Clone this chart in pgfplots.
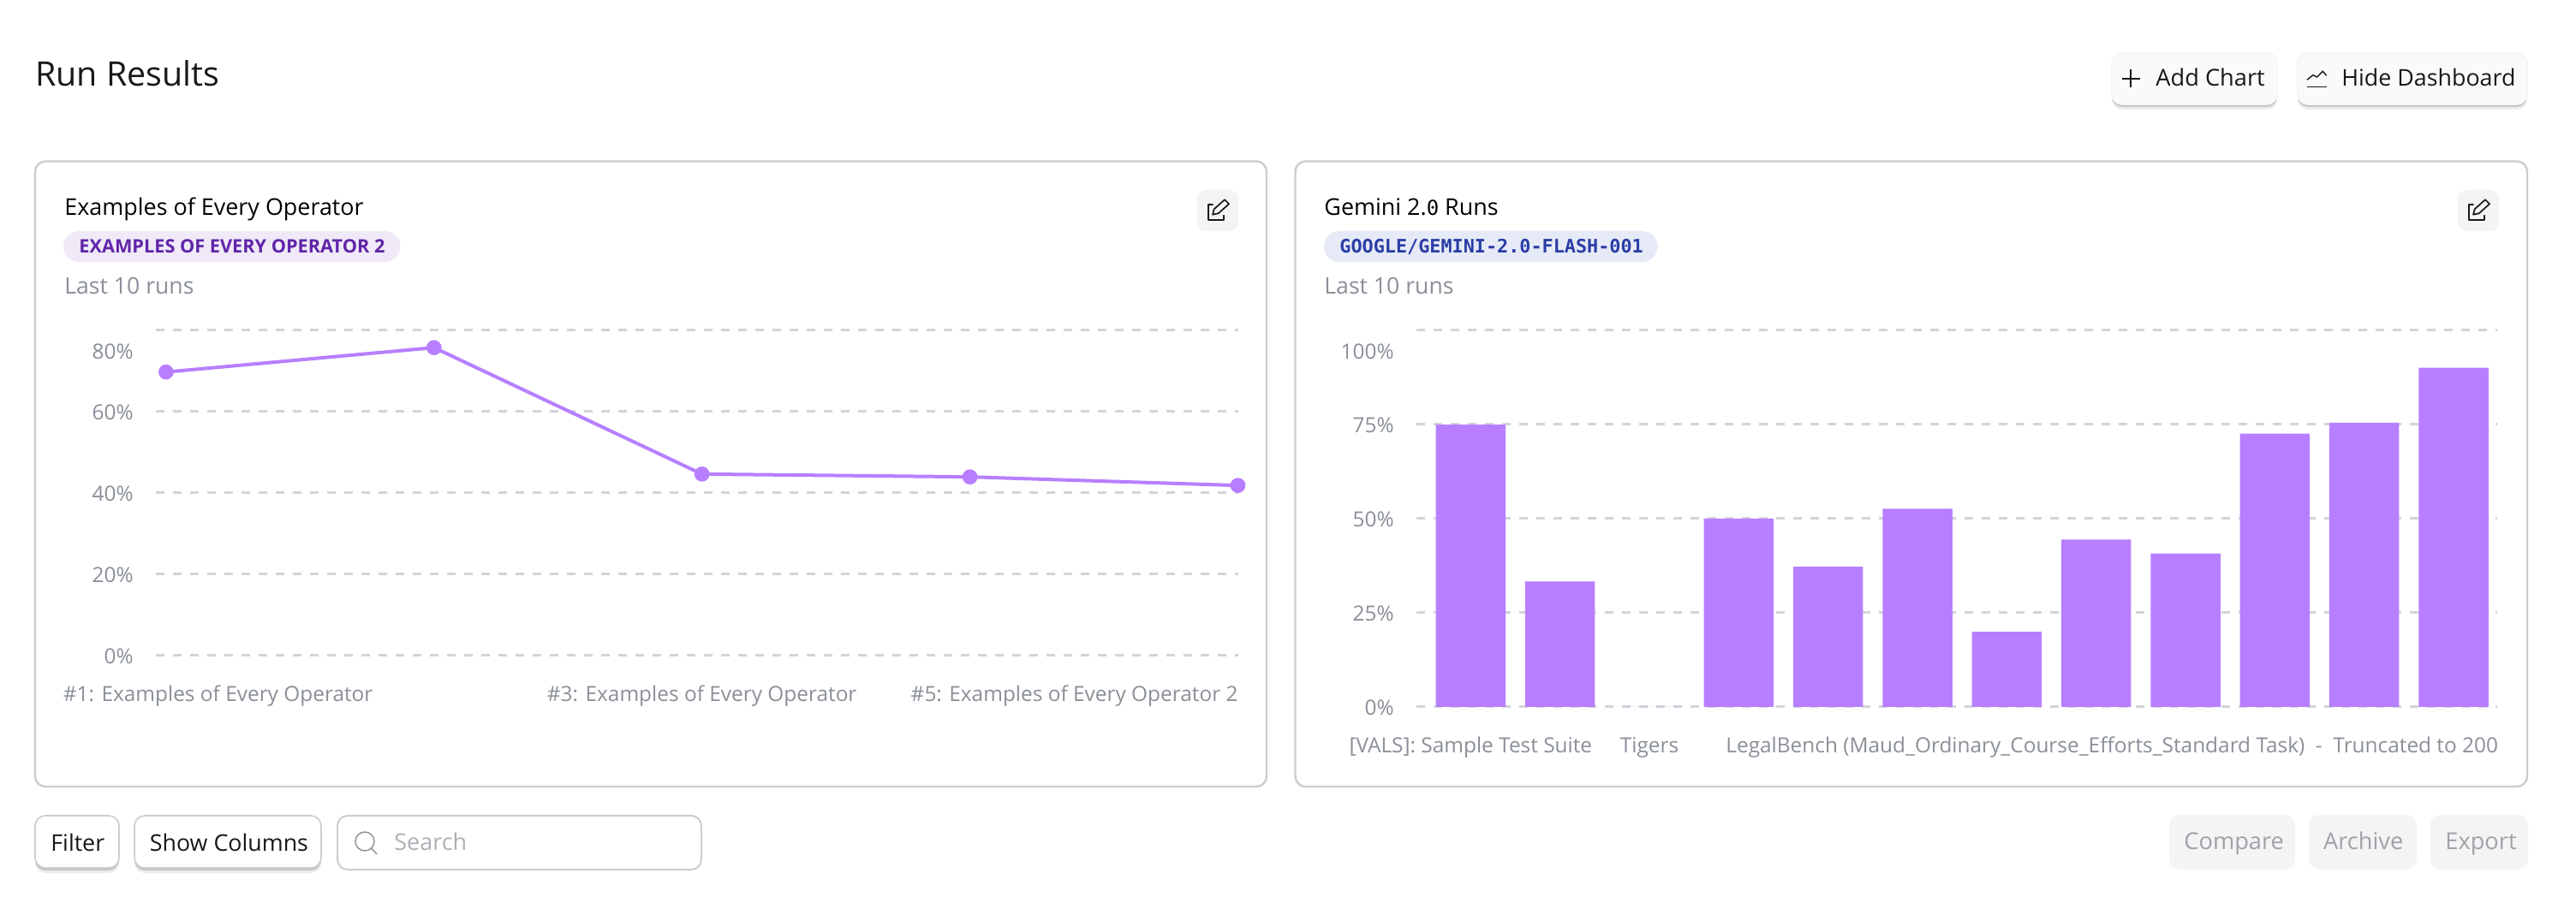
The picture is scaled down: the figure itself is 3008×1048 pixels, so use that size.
\documentclass[border=0pt]{standalone}
\usepackage{fontspec}
\setmainfont{Open Sans}
\newfontfamily\mono{DejaVu Sans Mono}
\usepackage{pgfplots}
\pgfplotsset{compat=1.18}

\definecolor{bar}{HTML}{B77FFF}
\definecolor{gridc}{HTML}{D3D4DA}
\definecolor{tickc}{HTML}{8A8F98}
\definecolor{border}{HTML}{CDCDD0}
\definecolor{ink}{HTML}{18181B}
\definecolor{tagpurple}{HTML}{EFE9F8}
\definecolor{tagpurpletext}{HTML}{6024A8}
\definecolor{tagblue}{HTML}{E6EAF6}
\definecolor{tagbluetext}{HTML}{2A3DA6}
\definecolor{offbg}{HTML}{F4F4F5}
\definecolor{offtext}{HTML}{A1A1AA}

\pgfplotstableread{
x y
0 69.7
1 75.7
2 44.6
3 43.9
4 41.8
}\operatorruns

\pgfplotstableread{
x y
0 74.9
1 33.3
2 0
3 50.0
4 37.2
5 52.6
6 19.9
7 44.4
8 40.7
9 72.5
10 75.4
11 90.0
}\geminiruns

% 1 px of the reference = 0.5pt, y runs downwards like in the screenshot
\pgfplotsset{
  dash/.style={
    scale only axis,
    anchor=south west,
    clip=false,
    axis line style={draw=none},
    tick style={draw=none},
    major tick length=0pt,
    ymajorgrids,
    major grid style={gridc,line width=1.5pt,dash pattern=on 5pt off 5pt},
    tick label style={font=\fontsize{12.2}{14}\selectfont,text=tickc,inner sep=0pt},
    y tick label style={anchor=east,xshift=-13pt,yshift=-0.6pt},
    x tick label style={anchor=base,yshift=-27pt},
  },
}
% txt{x}{y}{font}{colour}{text}
\newcommand{\txt}[5]{\node[anchor=base west,inner sep=0pt,text=#4,font=#3] at (#1,#2) {#5};}
\newcommand{\sz}[1]{\fontsize{#1}{#1}\selectfont}
% raised button with a soft lower edge
\newcommand{\btn}[5]{%
  \fill[black,opacity=0.07,rounded corners=6pt] (#1,#2+2) rectangle (#3,#4+6);
  \fill[black,opacity=0.16,rounded corners=6pt] (#1,#2+2) rectangle (#3,#4+3);
  \draw[#5,rounded corners=6pt,line width=0.8pt] (#1,#2) rectangle (#3,#4);}
\newcommand{\pencil}[1]{%
  \fill[offbg,rounded corners=5pt] (#1-24,222) rectangle (#1+24,270);
  \begin{scope}[shift={(#1,246)},ink,line width=0.85pt,line join=round,line cap=round]
    \draw (-6,-6.7) -- (-11.3,-6.7) -- (-11.3,10.7) -- (7.3,10.7) -- (7.3,5.7);
    \draw (-6,4.7) -- (-4.3,-1.7) -- (8,-12.7) -- (13,-7.7) -- (0.7,3.3) -- cycle;
  \end{scope}}

\begin{document}
\begin{tikzpicture}[x=0.5pt,y=-0.5pt]
\path[use as bounding box,fill=white] (0,0) rectangle (3008,1048);

% header
\txt{41}{100.7}{\sz{19.7}}{ink}{Run Results}
\btn{2466}{62}{2659}{122}{draw=white!96!black,fill=white!98!black}
\btn{2683}{62}{2951}{122}{draw=white!96!black,fill=white!98!black}
\draw[ink,line width=0.9pt] (2477.5,92) -- (2498.5,92) (2488,81.5) -- (2488,102.5);
\txt{2517}{101}{\sz{13.6}}{ink}{Add Chart}
\draw[ink,line width=0.8pt] (2693.5,101.7) -- (2717,101.7);
\draw[ink,line width=0.7pt] (2694,93.3) -- (2700.7,87.7) -- (2705.7,90) -- (2712.3,83.3) -- (2716.7,88.3);
\txt{2734}{101}{\sz{13.4}}{ink}{Hide Dashboard}

% cards
\draw[border,line width=1.2pt,rounded corners=6pt] (41,188.5) rectangle (1479,919);
\draw[border,line width=1.2pt,rounded corners=6pt] (1512.5,188.5) rectangle (2951,919);

% left card
\txt{75}{251.5}{\sz{13.45}}{black}{Examples of Every Operator}
\fill[tagpurple,rounded corners=9pt] (74,270) rectangle (467.5,306);
\txt{92}{295}{\sz{10.85}\bfseries}{tagpurpletext}{EXAMPLES OF EVERY OPERATOR 2}
\txt{75}{343.5}{\sz{13.3}}{tickc}{Last 10 runs}
\pencil{1422}

\begin{axis}[dash,
  at={(91pt,-382.85pt)},
  width=631.75pt,height=190pt,
  xmin=-0.038,xmax=4,ymin=0,ymax=80,
  ytick={0,20,40,60},
  yticklabels={0\%,20\%,40\%,60\%},
  extra y ticks={80},
  extra y tick labels={80\%},
  extra y tick style={grid=major,yticklabel style={yshift=-12.1pt}},
  xtick={0,2,4},
  xticklabels={
    \makebox[0pt][l]{\hspace{-60pt}\#1: Examples of Every Operator},
    \#3: Examples of Every Operator,
    \makebox[0pt][r]{\#5: Examples of Every Operator 2}},
]
\addplot[bar,line width=2pt,mark=*,mark size=3.4pt,mark options={fill=bar,draw=none}] table[x=x,y=y] {\operatorruns};
\end{axis}

% right card
\txt{1546}{251.5}{\sz{13.45}}{black}{Gemini 2.{\mono\sz{12}0} Runs}
\fill[tagblue,rounded corners=9pt] (1546,270) rectangle (1935.5,306);
\txt{1564}{295}{\sz{10.9}\mono\bfseries}{tagbluetext}{GOOGLE/GEMINI-2.0-FLASH-001}
\txt{1546}{343.5}{\sz{13.3}}{tickc}{Last 10 runs}
\pencil{2894}

\begin{axis}[dash,
  at={(827pt,-412.9pt)},
  width=630.85pt,height=220.05pt,
  xmin=-0.607,xmax=11.486,ymin=0,ymax=100,
  ytick={0,25,50,75},
  yticklabels={0\%,25\%,50\%,75\%},
  extra y ticks={100},
  extra y tick labels={100\%},
  extra y tick style={grid=major,yticklabel style={yshift=-12.1pt}},
  xtick={0,2,11},
  xticklabels={
    {[VALS]: Sample Test Suite},
    Tigers,
    \makebox[0pt][r]{LegalBench (Maud\_Ordinary\_Course\_Efforts\_Standard Task)\ \ -\ \ Truncated to 200\hspace{-26pt}}},
]
\addplot[ybar,bar width=40.75pt,bar shift=0pt,fill=bar,draw=none] table[x=x,y=y] {\geminiruns};
\end{axis}

% bottom controls
\btn{41}{953}{139}{1014}{draw=border,fill=white}
\txt{59}{994}{\sz{13.4}}{ink}{Filter}
\btn{157}{953}{375}{1014}{draw=border,fill=white}
\txt{174.5}{994}{\sz{13.4}}{ink}{Show Columns}
\draw[border,line width=1pt,rounded corners=6pt] (394,953) rectangle (819,1016);
\draw[tickc,line width=0.7pt] (426,983) circle[radius=11];
\draw[tickc,line width=0.7pt] (433.5,991) -- (440,998);
\txt{460}{993}{\sz{13.5}}{tickc!70!white}{Search}

\fill[offbg,rounded corners=6pt] (2533,952) rectangle (2680,1015.7);
\fill[offbg,rounded corners=6pt] (2696,952) rectangle (2822,1015.7);
\fill[offbg,rounded corners=6pt] (2838,952) rectangle (2952,1015.7);
\txt{2550}{992.7}{\sz{13.6}}{offtext}{Compare}
\txt{2712.7}{992.7}{\sz{13.6}}{offtext}{Archive}
\txt{2855}{992.7}{\sz{13.6}}{offtext}{Export}
\end{tikzpicture}
\end{document}
